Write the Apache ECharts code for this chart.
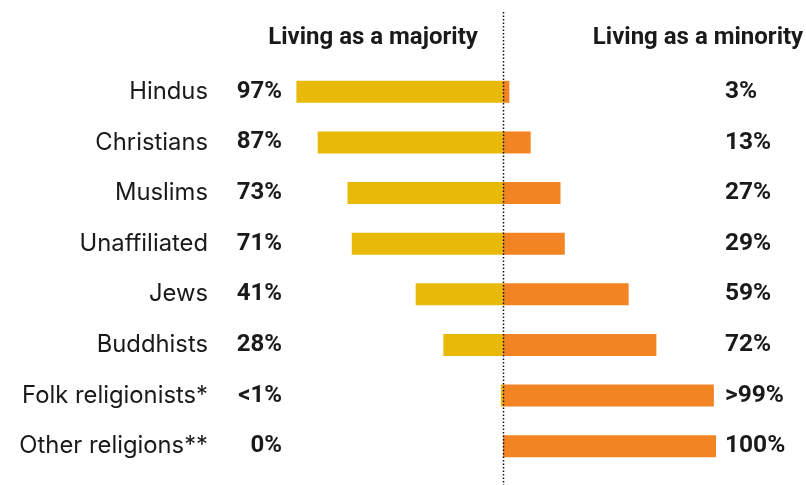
<!DOCTYPE html>
<html>
<head>
<meta charset="utf-8">
<script src="https://cdn.jsdelivr.net/npm/echarts@6/dist/echarts.min.js"></script>
<style>html,body{margin:0;padding:0;background:#fff;}#c{width:806px;height:485px;}</style>
</head>
<body>
<div id="c"></div>
<script>
var categories = ['Hindus','Christians','Muslims','Unaffiliated','Jews','Buddhists','Folk religionists*','Other religions**'];
var majority = [97, 87, 73, 71, 41, 28, 1, 0];
var minority = [3, 13, 27, 29, 59, 72, 99, 100];
var majorityLabels = ['97%','87%','73%','71%','41%','28%','<1%','0%'];
var minorityLabels = ['3%','13%','27%','29%','59%','72%','>99%','100%'];
var headers = ['Living as a majority', 'Living as a minority'];

var CAT_FONT = 'Inter';
var FONT = 'Roboto';
var chart = echarts.init(document.getElementById('c'), null, {renderer: 'canvas'});
chart.setOption({
  animation: false,
  backgroundColor: '#fff',
  grid: {left: 290, width: 426, top: 66.5, height: 405, containLabel: false},
  xAxis: {type: 'value', min: -100, max: 100, show: false},
  yAxis: [{
    type: 'category', data: categories, inverse: true, position: 'left',
    axisLine: {show: false}, axisTick: {show: false}, splitLine: {show: false},
    axisLabel: {
      margin: 8, align: 'right',
      formatter: function (v, i) { return '{n|' + v + '}{v|' + majorityLabels[i] + '}'; },
      rich: {
        n: {fontFamily: CAT_FONT, fontSize: 23.8, color: '#1a1a1a', fontWeight: 'normal'},
        v: {fontFamily: FONT, fontSize: 24, color: '#1a1a1a', fontWeight: 'bold', width: 74, align: 'right'}
      }
    }
  }, {
    type: 'category', data: minorityLabels, inverse: true, position: 'right',
    axisLine: {show: false}, axisTick: {show: false}, splitLine: {show: false},
    axisLabel: {margin: 9, align: 'left', fontFamily: FONT, fontSize: 24.5, fontWeight: 'bold', color: '#1a1a1a'}
  }],
  series: [{
    type: 'bar', name: 'majority', yAxisIndex: 0, barWidth: 22, barGap: '-100%',
    data: majority.map(function (v) { return -v; }),
    itemStyle: {color: '#E9B90A'}, silent: true
  }, {
    type: 'bar', name: 'minority', yAxisIndex: 0, barWidth: 22, barGap: '-100%',
    data: minority,
    itemStyle: {color: '#F38423'}, silent: true
  }]
});

var zx = chart.convertToPixel({xAxisIndex: 0}, 0);
chart.setOption({
  graphic: [{
    type: 'line', z: 10,
    shape: {x1: zx + 0.5, y1: 12, x2: zx + 0.5, y2: 485},
    style: {stroke: '#111', lineWidth: 1.5, lineDash: [1.5, 2]}
  }, {
    type: 'text', x: 373, y: 38,
    style: {text: headers[0], fontFamily: FONT, fontSize: 24, fontWeight: 'bold', fill: '#1a1a1a', textAlign: 'center', textVerticalAlign: 'middle'}
  }, {
    type: 'text', x: 698, y: 38,
    style: {text: headers[1], fontFamily: FONT, fontSize: 24, fontWeight: 'bold', fill: '#1a1a1a', textAlign: 'center', textVerticalAlign: 'middle'}
  }]
});
</script>
</body>
</html>
